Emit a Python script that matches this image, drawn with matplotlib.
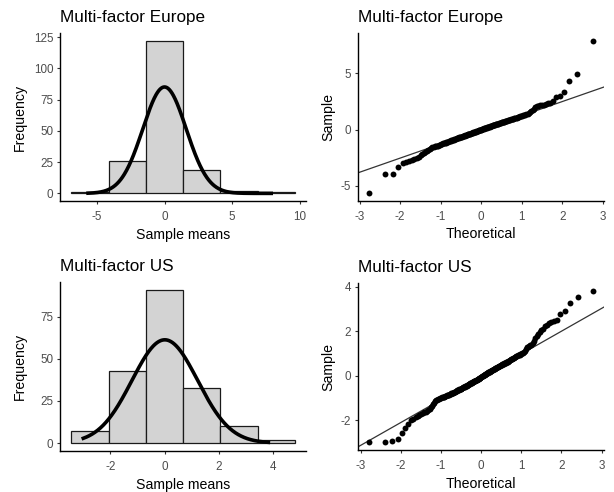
import numpy as np
import matplotlib
matplotlib.use("Agg")
import matplotlib.pyplot as plt
from statistics import NormalDist

plt.rcParams["font.family"] = ["Liberation Sans", "DejaVu Sans"]
plt.rcParams["axes.unicode_minus"] = False

titles = ["Multi-factor Europe", "Multi-factor US"]

# histogram bins: first left edge, bin width, counts per bin
eu_bin_start, eu_bin_width = -6.875, 2.75
eu_counts = [1, 26, 122, 19, 2, 1]
us_bin_start, us_bin_width = -3.425, 1.37
us_counts = [7, 43, 91, 33, 10, 2]

# sorted sample means per portfolio
eu_sample = [
    -5.65, -3.97, -3.91, -3.29, -3.00, -2.90, -2.82, -2.74, -2.62, -2.52,
    -2.40, -2.30, -2.18, -2.08, -1.98, -1.90, -1.80, -1.70, -1.63, -1.58,
    -1.54, -1.50, -1.47, -1.44, -1.42, -1.40, -1.38,
    -1.30, -1.27, -1.24, -1.21, -1.18, -1.16, -1.13, -1.10, -1.07, -1.04,
    -1.02, -0.99, -0.96, -0.94, -0.91, -0.89, -0.86, -0.84, -0.82, -0.79,
    -0.77, -0.75, -0.72, -0.70, -0.68, -0.66, -0.64, -0.62, -0.60, -0.58,
    -0.56, -0.54, -0.52, -0.50, -0.48, -0.46, -0.44, -0.42, -0.40, -0.38,
    -0.36, -0.34, -0.32, -0.30, -0.28, -0.26, -0.24, -0.22, -0.20, -0.18,
    -0.16, -0.14, -0.12, -0.10, -0.08, -0.06, -0.04, -0.02, 0.00,
    0.03, 0.05, 0.07, 0.09, 0.10, 0.12, 0.14, 0.16, 0.18, 0.20,
    0.21, 0.23, 0.25, 0.27, 0.29, 0.30, 0.32, 0.34, 0.36, 0.38,
    0.40, 0.41, 0.43, 0.45, 0.47, 0.49, 0.51, 0.53, 0.55, 0.57,
    0.59, 0.61, 0.63, 0.65, 0.67, 0.69, 0.71, 0.73, 0.75, 0.77,
    0.79, 0.81, 0.83, 0.86, 0.88, 0.90, 0.92, 0.95, 0.97, 1.00,
    1.02, 1.05, 1.07, 1.10, 1.12, 1.15, 1.18, 1.21, 1.24, 1.27,
    1.30, 1.33, 1.36,
    1.42, 1.50, 1.58, 1.66, 1.74, 1.86, 1.98, 2.06, 2.10, 2.14,
    2.18, 2.22, 2.26, 2.32, 2.40, 2.50, 2.85, 3.00, 3.38, 4.32,
    4.94, 7.88,
]
us_sample = [
    -2.99, -2.96, -2.93, -2.82, -2.58, -2.35, -2.15, -2.00, -1.92, -1.84,
    -1.79, -1.75, -1.71, -1.67, -1.64, -1.61, -1.57, -1.53, -1.48, -1.42,
    -1.35, -1.28, -1.21, -1.15, -1.10, -1.07, -1.05, -1.03, -1.01, -0.99,
    -0.97, -0.96, -0.94, -0.93, -0.91, -0.90, -0.88, -0.87, -0.85, -0.84,
    -0.82, -0.81, -0.79, -0.78, -0.77, -0.75, -0.74, -0.72, -0.71, -0.69,
    -0.67, -0.65, -0.64, -0.62, -0.61, -0.59, -0.58, -0.57, -0.55, -0.54,
    -0.52, -0.51, -0.49, -0.48, -0.47, -0.45, -0.44, -0.42, -0.41, -0.39,
    -0.38, -0.37, -0.35, -0.34, -0.32, -0.31, -0.29, -0.28, -0.27, -0.25,
    -0.24, -0.22, -0.21, -0.19, -0.18, -0.17, -0.15, -0.14, -0.12, -0.11,
    -0.09, -0.08, -0.07,
    -0.03, -0.02, 0.00, 0.01, 0.03, 0.04, 0.06, 0.07, 0.09, 0.10,
    0.12, 0.13, 0.15, 0.16, 0.18, 0.19, 0.21, 0.22, 0.24, 0.25,
    0.27, 0.28, 0.29, 0.31, 0.32, 0.34, 0.35, 0.37, 0.38, 0.40,
    0.41, 0.43, 0.44, 0.46, 0.47, 0.49, 0.50, 0.52, 0.53, 0.55,
    0.56, 0.58, 0.59, 0.61, 0.62, 0.64, 0.65, 0.67,
    0.70, 0.72, 0.74, 0.76, 0.78, 0.80, 0.82, 0.84, 0.86, 0.88,
    0.90, 0.92, 0.94, 0.96, 0.98, 1.00, 1.02, 1.05, 1.08, 1.14,
    1.22, 1.28, 1.32, 1.35, 1.37, 1.40, 1.48, 1.58, 1.68, 1.78,
    1.88, 1.96, 2.04, 2.12, 2.22, 2.30, 2.36, 2.40, 2.45, 2.50,
    2.79, 2.90, 3.26, 3.56, 3.82,
]

# normal overlay: density * n * multiplier
eu_curve_mult = 2.0
us_curve_mult = 1.0

eu_hist_xticks = [-5, 0, 5, 10]
eu_hist_yticks = [0, 25, 50, 75, 100, 125]
us_hist_xticks = [-2, 0, 2, 4]
us_hist_yticks = [0, 25, 50, 75]
qq_xticks = [-3, -2, -1, 0, 1, 2, 3]
eu_qq_yticks = [-5, 0, 5]
us_qq_yticks = [-2, 0, 2, 4]

W, H = 614, 492


def px_axes(fig, left, top, right, bottom):
    return fig.add_axes([left / W, 1 - bottom / H, (right - left) / W, (bottom - top) / H])


def style(ax, title, xlabel, ylabel, ylab_x):
    for side in ["top", "right"]:
        ax.spines[side].set_visible(False)
    for side in ["left", "bottom"]:
        ax.spines[side].set_linewidth(1.0)
        ax.spines[side].set_color("black")
    ax.tick_params(length=2.5, width=0.8, color="#333333", labelsize=8.4,
                   labelcolor="#4D4D4D")
    ax.tick_params(axis="x", pad=5.0)
    ax.tick_params(axis="y", pad=2.5)
    ax.set_title(title, loc="left", fontsize=12.3, pad=8, color="black")
    ax.set_xlabel(xlabel, fontsize=10.2)
    ax.set_ylabel(ylabel, fontsize=10.2)
    ax.xaxis.set_label_coords(0.5, -0.16)
    ax.yaxis.set_label_coords(ylab_x, 0.5)


def draw_hist(ax, start, width, counts, sample, mult, xticks, yticks):
    counts = np.asarray(counts)
    sample = np.asarray(sample)
    edges = start + width * np.arange(len(counts) + 1)
    ax.bar(edges[:-1], counts, width=width, align="edge", color="#D3D3D3",
           edgecolor="#1A1A1A", linewidth=0.9)
    # normal curve from the sample's mean and sd, over the sample's range
    nd = NormalDist(sample.mean(), sample.std(ddof=1))
    xs = np.linspace(sample.min(), sample.max(), 400)
    ys = np.array([nd.pdf(x) for x in xs]) * len(sample) * mult
    ax.plot(xs, ys, color="black", lw=2.6)
    xpad = 0.05 * (edges[-1] - edges[0])
    ax.set_xlim(edges[0] - xpad, edges[-1] + xpad)
    ypad = 0.05 * counts.max()
    ax.set_ylim(-ypad, counts.max() + ypad)
    ax.set_xticks(xticks)
    ax.set_yticks(yticks)


def draw_qq(ax, sample, yticks):
    s = np.sort(np.asarray(sample))
    n = len(s)
    nd = NormalDist()
    theo = np.array([nd.inv_cdf((i + 0.5) / n) for i in range(n)])
    ax.scatter(theo, s, s=18, color="black", linewidths=0, zorder=3)
    # reference line through the quartiles
    q1, q3 = np.quantile(s, [0.25, 0.75])
    t1, t3 = nd.inv_cdf(0.25), nd.inv_cdf(0.75)
    slope = (q3 - q1) / (t3 - t1)
    ax.axline((0, q1 - slope * t1), slope=slope, color="#333333", lw=0.9)
    xpad = 0.05 * (theo[-1] - theo[0])
    ax.set_xlim(theo[0] - xpad, theo[-1] + xpad)
    ypad = 0.05 * (s[-1] - s[0])
    ax.set_ylim(s[0] - ypad, s[-1] + ypad)
    ax.set_xticks(qq_xticks)
    ax.set_yticks(yticks)


fig = plt.figure(figsize=(W / 100, H / 100), dpi=100)

ax1 = px_axes(fig, 60.3, 33.3, 306, 201)
draw_hist(ax1, eu_bin_start, eu_bin_width, eu_counts, eu_sample, eu_curve_mult,
          eu_hist_xticks, eu_hist_yticks)
style(ax1, titles[0], "Sample means", "Frequency", -0.137)

ax2 = px_axes(fig, 358.3, 33.3, 604, 200.7)
draw_qq(ax2, eu_sample, eu_qq_yticks)
style(ax2, titles[0], "Theoretical", "Sample", -0.095)

ax3 = px_axes(fig, 60.3, 282.3, 306, 450.7)
draw_hist(ax3, us_bin_start, us_bin_width, us_counts, us_sample, us_curve_mult,
          us_hist_xticks, us_hist_yticks)
style(ax3, titles[1], "Sample means", "Frequency", -0.137)

ax4 = px_axes(fig, 358.3, 283.3, 604, 450)
draw_qq(ax4, us_sample, us_qq_yticks)
style(ax4, titles[1], "Theoretical", "Sample", -0.095)

fig.savefig("out.png", dpi=100)
